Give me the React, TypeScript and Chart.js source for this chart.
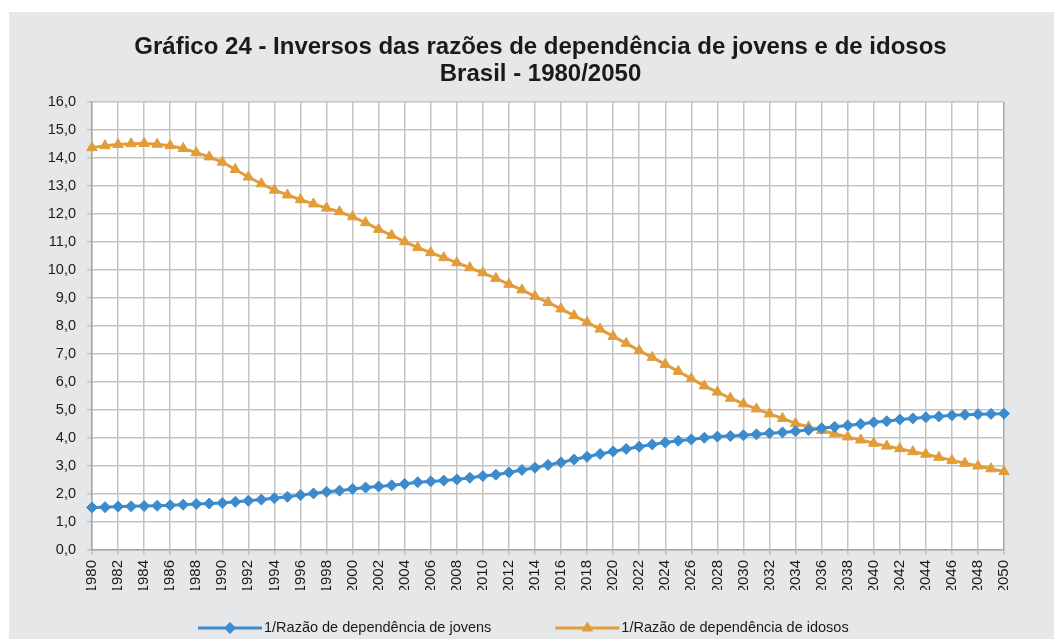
import React, { useEffect, useRef } from 'react';
import { Chart, registerables } from 'chart.js';
import { drawPoint } from 'chart.js/helpers';

Chart.register(...registerables);

const years = [
  1980, 1981, 1982, 1983, 1984, 1985, 1986, 1987, 1988, 1989,
  1990, 1991, 1992, 1993, 1994, 1995, 1996, 1997, 1998, 1999,
  2000, 2001, 2002, 2003, 2004, 2005, 2006, 2007, 2008, 2009,
  2010, 2011, 2012, 2013, 2014, 2015, 2016, 2017, 2018, 2019,
  2020, 2021, 2022, 2023, 2024, 2025, 2026, 2027, 2028, 2029,
  2030, 2031, 2032, 2033, 2034, 2035, 2036, 2037, 2038, 2039,
  2040, 2041, 2042, 2043, 2044, 2045, 2046, 2047, 2048, 2049,
  2050,
];

const jovens = [
  1.52, 1.53, 1.55, 1.56, 1.57, 1.58, 1.60, 1.62, 1.64, 1.66,
  1.68, 1.72, 1.76, 1.80, 1.85, 1.90, 1.96, 2.02, 2.08, 2.12,
  2.18, 2.23, 2.27, 2.31, 2.36, 2.42, 2.45, 2.48, 2.52, 2.58,
  2.64, 2.69, 2.77, 2.86, 2.94, 3.04, 3.13, 3.23, 3.33, 3.43,
  3.52, 3.61, 3.69, 3.77, 3.84, 3.90, 3.95, 4.01, 4.05, 4.07,
  4.10, 4.13, 4.17, 4.20, 4.24, 4.29, 4.35, 4.40, 4.45, 4.50,
  4.56, 4.60, 4.66, 4.70, 4.74, 4.77, 4.81, 4.83, 4.85, 4.86,
  4.87,
];

const idosos = [
  14.37, 14.44, 14.48, 14.51, 14.52, 14.49, 14.44, 14.34, 14.19, 14.04,
  13.85, 13.59, 13.32, 13.08, 12.85, 12.68, 12.51, 12.36, 12.21, 12.08,
  11.90, 11.69, 11.45, 11.24, 11.01, 10.80, 10.62, 10.44, 10.26, 10.08,
  9.90, 9.70, 9.49, 9.29, 9.06, 8.84, 8.61, 8.37, 8.13, 7.89,
  7.63, 7.38, 7.12, 6.88, 6.63, 6.38, 6.12, 5.86, 5.64, 5.42,
  5.22, 5.04, 4.86, 4.70, 4.52, 4.40, 4.27, 4.15, 4.04, 3.93,
  3.81, 3.71, 3.62, 3.51, 3.42, 3.31, 3.20, 3.10, 3.00, 2.90,
  2.80,
];

const seriesLabels = [
  '1/Razão de dependência de jovens',
  '1/Razão de dependência de idosos',
];

const titleLines = [
  'Gráfico 24 - Inversos das razões de dependência de jovens e de idosos',
  'Brasil - 1980/2050',
];

const FONT = "'Liberation Sans', Arial, Helvetica, sans-serif";
const BLUE = '#3c8ccd';
const ORANGE = '#e29d3a';
const TEXT = '#1a1a1a';
const GRID = '#c4c4c4';
const AXIS = '#a6a6a6';

export default function App() {
  const ref = useRef<HTMLCanvasElement>(null);

  useEffect(() => {
    const canvas = ref.current;
    if (!canvas) return;

    const panelPlugin = {
      id: 'panelBg',
      beforeDraw(chart: any) {
        const { ctx, chartArea } = chart;
        ctx.save();
        ctx.fillStyle = '#e6e7e8';
        ctx.fillRect(9, 12, chart.width - 9, chart.height - 12);
        ctx.fillStyle = '#ffffff';
        ctx.fillRect(
          chartArea.left,
          chartArea.top,
          chartArea.right - chartArea.left,
          chartArea.bottom - chartArea.top
        );
        ctx.restore();
      },
    };

    const legendPlugin = {
      id: 'lineLegend',
      afterDraw(chart: any) {
        const ctx = chart.ctx;
        ctx.save();
        ctx.font = `14.5px ${FONT}`;
        ctx.textBaseline = 'middle';
        ctx.textAlign = 'left';
        let x = 198;
        const y = 628;
        chart.data.datasets.forEach((ds: any) => {
          ctx.strokeStyle = ds.borderColor;
          ctx.lineWidth = ds.borderWidth;
          ctx.beginPath();
          ctx.moveTo(x, y);
          ctx.lineTo(x + 64, y);
          ctx.stroke();
          ctx.fillStyle = ds.pointBackgroundColor;
          ctx.strokeStyle = ds.pointBorderColor;
          ctx.lineWidth = ds.pointBorderWidth;
          drawPoint(
            ctx,
            {
              pointStyle: ds.pointStyle,
              radius: ds.pointRadius,
              rotation: 0,
              borderWidth: ds.pointBorderWidth,
            } as any,
            x + 32,
            y
          );
          ctx.fillStyle = TEXT;
          ctx.fillText(ds.label, x + 66, y);
          x = x + 66 + ctx.measureText(ds.label).width + 64;
        });
        ctx.restore();
      },
    };

    const chart = new Chart(canvas, {
      type: 'line',
      data: {
        datasets: [
          {
            label: seriesLabels[0],
            data: years.map((yr, i) => ({ x: yr, y: jovens[i] })),
            borderColor: BLUE,
            backgroundColor: BLUE,
            borderWidth: 3,
            pointStyle: 'rectRot',
            pointRadius: 5.5,
            pointBackgroundColor: BLUE,
            pointBorderColor: BLUE,
            pointBorderWidth: 1,
            tension: 0,
            clip: false as any,
          },
          {
            label: seriesLabels[1],
            data: years.map((yr, i) => ({ x: yr, y: idosos[i] })),
            borderColor: ORANGE,
            backgroundColor: ORANGE,
            borderWidth: 3,
            pointStyle: 'triangle',
            pointRadius: 6,
            pointBackgroundColor: ORANGE,
            pointBorderColor: ORANGE,
            pointBorderWidth: 1,
            tension: 0,
            clip: false as any,
          },
        ],
      },
      options: {
        responsive: false,
        animation: false,
        devicePixelRatio: 1,
        layout: { padding: { left: 27, right: 0, top: 0, bottom: 49 } },
        plugins: {
          legend: { display: false },
          tooltip: { enabled: false },
          title: {
            display: true,
            text: titleLines,
            color: TEXT,
            font: { family: FONT, size: 24, weight: 'bold', lineHeight: 1.125 },
            padding: { top: 33.5, bottom: 14.5 },
          },
        },
        scales: {
          x: {
            type: 'linear',
            min: 1980,
            max: 2050,
            offset: false,
            grid: {
              color: (c: any) => (c.tick && c.tick.value === 2050 ? AXIS : GRID),
              lineWidth: 1.5,
              tickLength: 5,
              tickColor: GRID,
            },
            border: { display: true, color: AXIS, width: 1.5 },
            ticks: {
              stepSize: 2,
              autoSkip: false,
              minRotation: 90,
              maxRotation: 90,
              padding: 5,
              color: TEXT,
              font: { family: FONT, size: 15 },
              callback: (v: any) => String(v),
            },
            afterFit: (s: any) => {
              s.height = 40;
            },
          },
          y: {
            type: 'linear',
            min: 0,
            max: 16,
            grid: { color: GRID, lineWidth: 1.5, tickLength: 5, tickColor: GRID },
            border: { display: true, color: AXIS, width: 1.5 },
            ticks: {
              stepSize: 1,
              padding: 11,
              color: TEXT,
              font: { family: FONT, size: 14.5 },
              callback: (v: any) => Number(v).toFixed(1).replace('.', ','),
            },
            afterFit: (s: any) => {
              s.width = 65;
            },
          },
          yRight: {
            type: 'linear',
            position: 'right',
            display: true,
            grid: { display: false },
            border: { display: false },
            ticks: { display: false },
            afterFit: (s: any) => {
              s.width = 50;
            },
          },
        },
      },
      plugins: [panelPlugin, legendPlugin],
    });

    return () => chart.destroy();
  }, []);

  return (
    <div style={{ position: 'absolute', left: 0, top: 0, width: 1054, height: 639 }}>
      <canvas ref={ref} width={1054} height={639} style={{ display: 'block' }} />
    </div>
  );
}
